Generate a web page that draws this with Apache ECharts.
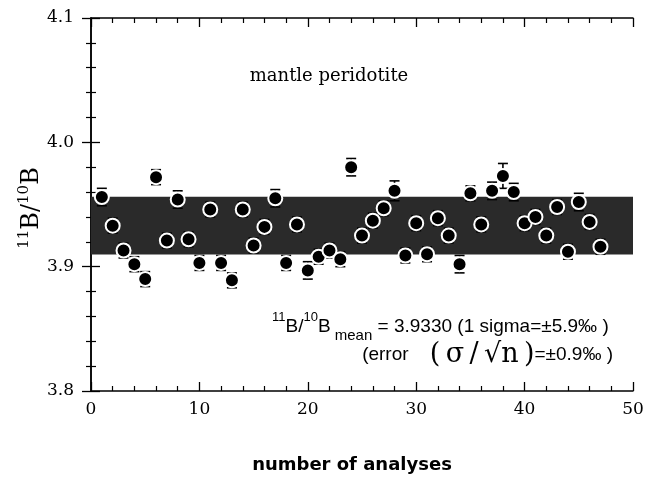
<!DOCTYPE html>
<html>
<head>
<meta charset="utf-8">
<script src="https://cdn.jsdelivr.net/npm/echarts@6/dist/echarts.min.js"></script>
<style>html,body{margin:0;padding:0;background:#fff}#c{width:656px;height:477px}</style>
</head>
<body>
<div id="c"></div>
<script>
// ---- data ----
const analysisNo = [1,2,3,4,5,6,7,8,9,10,11,12,13,14,15,16,17,18,19,20,21,22,23,24,25,26,27,28,29,30,31,32,33,34,35,36,37,38,39,40,41,42,43,44,45,46,47];
const ratios = [3.956,3.933,3.913,3.902,3.890,3.972,3.921,3.954,3.922,3.903,3.946,3.903,3.889,3.946,3.917,3.932,3.955,3.903,3.934,3.897,3.908,3.913,3.906,3.980,3.925,3.937,3.947,3.961,3.909,3.935,3.910,3.939,3.925,3.902,3.959,3.934,3.961,3.973,3.960,3.935,3.940,3.925,3.948,3.912,3.952,3.936,3.916];
const errors = [0.007,0.006,0.006,0.006,0.006,0.006,0.006,0.007,0.006,0.006,0.006,0.006,0.006,0.006,0.006,0.006,0.007,0.006,0.006,0.007,0.006,0.006,0.006,0.007,0.006,0.006,0.006,0.008,0.006,0.006,0.006,0.006,0.006,0.007,0.006,0.006,0.007,0.010,0.007,0.006,0.006,0.006,0.006,0.006,0.007,0.006,0.006];
const meanRatio = 3.9330;
const sigmaRatio = 0.0232;
const xTicks = [0,10,20,30,40,50];
const yTicks = [3.8,3.9,4.0,4.1];

const chart = echarts.init(document.getElementById('c'), null, {renderer:'canvas'});
const serif = '"DejaVu Serif", "Liberation Serif", serif';
const sans = '"Liberation Sans", Arial, sans-serif';

const pts = analysisNo.map((n,i)=>[n, ratios[i], errors[i]]);

const axisCommon = {
  axisLine:{show:true, lineStyle:{color:'#000', width:1.5}},
  axisTick:{show:true, inside:true, length:9, lineStyle:{color:'#000', width:1.3}},
  minorTick:{show:true, splitNumber:5, length:5, lineStyle:{color:'#000', width:1.2}},
  splitLine:{show:false}
};

chart.setOption({
  animation:false,
  grid:{left:91, right:23, top:18, bottom:86, show:false},
  xAxis:[
    Object.assign({type:'value', min:xTicks[0], max:xTicks[xTicks.length-1], interval:10, position:'bottom',
      axisLabel:{color:'#000', fontFamily:serif, fontSize:17, margin:10}}, axisCommon),
    Object.assign({type:'value', min:xTicks[0], max:xTicks[xTicks.length-1], interval:10, position:'top',
      axisLabel:{show:false}}, axisCommon)
  ],
  yAxis:[
    Object.assign({type:'value', min:yTicks[0], max:yTicks[yTicks.length-1], interval:0.1, position:'left',
      axisLabel:{color:'#000', fontFamily:serif, fontSize:17, margin:17, formatter:v=>v.toFixed(1)}}, axisCommon),
    Object.assign({type:'value', min:yTicks[0], max:yTicks[yTicks.length-1], interval:0.1, position:'right',
      axisLabel:{show:false}}, axisCommon)
  ],
  series:[
    {
      type:'line', data:[], z:1,
      markArea:{silent:true, itemStyle:{color:'#2a2a2a'},
        data:[[{yAxis: meanRatio - sigmaRatio, xAxis: xTicks[0]}, {yAxis: meanRatio + sigmaRatio, xAxis: xTicks[xTicks.length-1]}]]}
    },
    {
      type:'custom', z:2, data:pts,
      renderItem:function(params, api){
        const x = api.value(0), y = api.value(1), e = api.value(2);
        const t = api.coord([x, y+e]), b = api.coord([x, y-e]);
        const cap = 5;
        const st = {stroke:'#000', lineWidth:1.6};
        return {type:'group', children:[
          {type:'line', shape:{x1:t[0], y1:t[1], x2:b[0], y2:b[1]}, style:st},
          {type:'line', shape:{x1:t[0]-cap, y1:t[1], x2:t[0]+cap, y2:t[1]}, style:st},
          {type:'line', shape:{x1:b[0]-cap, y1:b[1], x2:b[0]+cap, y2:b[1]}, style:st}
        ]};
      }
    },
    {
      type:'scatter', z:3, data:pts.map(p=>[p[0],p[1]]), symbol:'circle', symbolSize:14,
      itemStyle:{color:'#000', borderColor:'#fff', borderWidth:2, opacity:1}
    }
  ],
  graphic:[
    {type:'text', x:329, y:76, style:{text:'mantle peridotite', font:'18px '+serif, fill:'#000', align:'center', verticalAlign:'middle'}},
    {type:'text', x:32, y:208, rotation:Math.PI/2, style:{
      text:'{s|11}{b|B/}{s|10}{b|B}', align:'center', verticalAlign:'middle',
      rich:{ b:{fontFamily:serif, fontSize:24, lineHeight:30, verticalAlign:'middle', fill:'#000'},
             s:{fontFamily:serif, fontSize:15, lineHeight:22, verticalAlign:'top', fill:'#000'} } }},
    {type:'text', x:272, y:327, style:{
      text:'{s|11}{n|B/}{s|10}{n|B}{m| mean}{n| = 3.9330 (1 sigma=±5.9‰ )}', align:'left', verticalAlign:'middle',
      rich:{ n:{fontFamily:sans, fontSize:19, lineHeight:32, verticalAlign:'middle', fill:'#000'},
             s:{fontFamily:sans, fontSize:13, lineHeight:21, verticalAlign:'top', fill:'#000'},
             m:{fontFamily:sans, fontSize:15, lineHeight:17, verticalAlign:'bottom', fill:'#000'} } }},
    {type:'text', x:613, y:355, style:{
      text:'{n|(error    }{g|(\u2009σ\u2009/\u2009√n\u2009)}{n|=±0.9‰ )}', align:'right', verticalAlign:'middle',
      rich:{ n:{fontFamily:sans, fontSize:19, lineHeight:30, fill:'#000'},
             g:{fontFamily:serif, fontSize:27, lineHeight:30, fill:'#000'} } }},
    {type:'text', x:352, y:465, style:{text:'number of analyses', font:'bold 18px "DejaVu Sans", sans-serif', fill:'#000', align:'center', verticalAlign:'middle'}}
  ]
});
</script>
</body>
</html>
